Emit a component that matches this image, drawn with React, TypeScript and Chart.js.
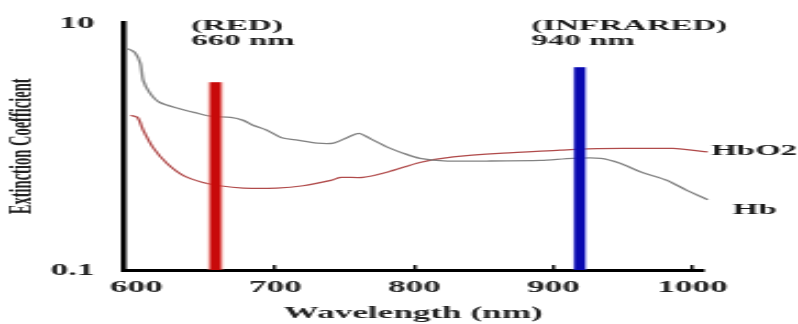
import React, { useEffect, useRef } from 'react';
import { Chart, registerables } from 'chart.js';

Chart.register(...registerables);

// ---- data ----
const tickWavelengths = [600, 700, 800, 900, 1000];
const tickExtinction = [0.1, 10];

const hbWavelength = [594, 599, 603, 605, 610, 617, 630, 644, 653, 668, 677, 684, 694, 704, 716, 730, 742, 752, 760, 768, 781, 792, 804, 824, 852, 891, 914, 934, 948, 963, 982, 996, 1011, 1022];
const hbValues = [6.17, 5.73, 4.67, 3.41, 2.68, 2.26, 2.03, 1.85, 1.75, 1.71, 1.62, 1.48, 1.35, 1.18, 1.12, 1.06, 1.06, 1.18, 1.27, 1.16, 0.98, 0.88, 0.8, 0.76, 0.76, 0.77, 0.8, 0.8, 0.73, 0.62, 0.53, 0.44, 0.37, 0.32];

const hbo2Wavelength = [596, 601, 605, 612, 622, 634, 648, 660, 677, 701, 720, 740, 747, 763, 781, 804, 828, 864, 905, 919, 950, 986, 1011];
const hbo2Values = [1.78, 1.71, 1.35, 0.98, 0.73, 0.58, 0.51, 0.48, 0.46, 0.46, 0.48, 0.53, 0.56, 0.56, 0.62, 0.74, 0.82, 0.88, 0.93, 0.95, 0.96, 0.96, 0.9];

const barWavelengths = [657, 919];
const barTops = [3.3, 4.36];
const barTitles = ['(RED)', '(INFRARED)'];
const barSubtitles = ['660 nm', '940 nm'];
const seriesNames = ['Hb', 'HbO2'];

const xTitle = 'Wavelength (nm)';
const yTitle = 'Extinction Coefficient';

// ---- rendering setup ----
const SERIF = '"Liberation Serif", "DejaVu Serif", serif';
const INT_W = 363; // internal canvas width, displayed stretched to 798
const INT_H = 324;

const pts = (xs: number[], ys: number[]) => xs.map((x, i) => ({ x, y: ys[i] }));
const barPts = (i: number) => [
  { x: barWavelengths[i], y: tickExtinction[0] },
  { x: barWavelengths[i], y: barTops[i] },
];

const labelPlugin = {
  id: 'labelPlugin',
  afterDatasetsDraw(chart: any) {
    const { ctx, scales } = chart;
    const xs = scales.x;
    const ys = scales.y;
    ctx.save();
    ctx.fillStyle = '#1a1a1a';
    ctx.font = `bold 15px ${SERIF}`;
    ctx.textAlign = 'left';
    ctx.textBaseline = 'alphabetic';
    const offsets = [-11, -22];
    barWavelengths.forEach((w, i) => {
      const px = xs.getPixelForValue(w) + offsets[i];
      ctx.fillText(barTitles[i], px, 30);
      ctx.fillText(barSubtitles[i], px, 45);
    });
    // series end labels
    const hbL = hbWavelength.length - 1;
    const hboL = hbo2Wavelength.length - 1;
    ctx.fillText(
      seriesNames[1],
      xs.getPixelForValue(hbo2Wavelength[hboL]) + 1.5,
      ys.getPixelForValue(hbo2Values[hboL]) + 3
    );
    ctx.fillText(
      seriesNames[0],
      xs.getPixelForValue(hbWavelength[hbL]) + 4.5,
      ys.getPixelForValue(hbValues[hbL]) + 6
    );
    ctx.restore();
  },
};

export default function App() {
  const ref = useRef<HTMLCanvasElement | null>(null);

  useEffect(() => {
    document.body.style.margin = '0';
    const canvas = ref.current;
    if (!canvas) return;
    const chart = new Chart(canvas, {
      type: 'line',
      data: {
        datasets: [
          { label: 'redBar', data: barPts(0), borderColor: '#c80a0a', borderWidth: 5, pointRadius: 0, order: 0, borderCapStyle: 'butt' },
          { label: 'blueBar', data: barPts(1), borderColor: '#0808b0', borderWidth: 5, pointRadius: 0, order: 0, borderCapStyle: 'butt' },
          { label: 'redGlow', data: barPts(0), borderColor: 'rgba(245,140,130,0.45)', borderWidth: 7.2, pointRadius: 0, order: 1, borderCapStyle: 'butt' },
          { label: 'blueGlow', data: barPts(1), borderColor: 'rgba(140,150,255,0.4)', borderWidth: 6.2, pointRadius: 0, order: 1, borderCapStyle: 'butt' },
          { label: seriesNames[0], data: pts(hbWavelength, hbValues), borderColor: '#828282', borderWidth: 1.3, pointRadius: 0, tension: 0.25, order: 2, clip: false },
          { label: seriesNames[1], data: pts(hbo2Wavelength, hbo2Values), borderColor: '#b04a4a', borderWidth: 1.25, pointRadius: 0, tension: 0.25, order: 2, clip: false },
        ] as any,
      },
      options: {
        responsive: false,
        maintainAspectRatio: false,
        devicePixelRatio: 1,
        animation: false,
        layout: { padding: { top: 22, right: 43, left: 0, bottom: 0 } },
        plugins: { legend: { display: false }, tooltip: { enabled: false } },
        scales: {
          x: {
            type: 'linear',
            min: 590.6,
            max: 1008,
            afterBuildTicks: (s: any) => {
              s.ticks = tickWavelengths.map((v) => ({ value: v }));
            },
            afterFit: (s: any) => {
              s.height = 54;
            },
            ticks: {
              color: '#222',
              font: { family: SERIF, size: 16, weight: 'bold' },
              padding: 13,
              autoSkip: false,
              maxRotation: 0,
              callback: (v: any) => String(v),
            },
            grid: {
              drawOnChartArea: false,
              drawTicks: true,
              tickLength: -5,
              lineWidth: 1.5,
              color: (c: any) => (c.tick && c.tick.value === tickWavelengths[0] ? 'rgba(0,0,0,0)' : '#111'),
            },
            border: { display: true, color: '#000', width: 3 },
            title: {
              display: true,
              text: xTitle,
              color: '#222',
              font: { family: SERIF, size: 16, weight: 'bold' },
              padding: { top: 0, bottom: 1 },
            },
          },
          y: {
            type: 'logarithmic',
            min: 0.1,
            max: 10,
            afterBuildTicks: (s: any) => {
              s.ticks = tickExtinction.map((v) => ({ value: v }));
            },
            afterFit: (s: any) => {
              s.width = 56;
            },
            ticks: {
              color: '#222',
              font: { family: SERIF, size: 16, weight: 'bold' },
              padding: 13,
              labelOffset: 1,
              callback: (v: any) => String(v),
            },
            grid: { display: false, drawTicks: false },
            border: { display: true, color: '#000', width: 2.5 },
            title: {
              display: true,
              text: yTitle,
              color: '#222',
              font: { family: SERIF, size: 14.5, weight: 'bold' },
              padding: { top: 2, bottom: 0 },
            },
          },
        },
      } as any,
      plugins: [labelPlugin],
    });
    return () => chart.destroy();
  }, []);

  return (
    <div style={{ position: 'fixed', left: 0, top: 0, width: 798, height: 324, background: '#fff' }}>
      <canvas
        ref={ref}
        width={INT_W}
        height={INT_H}
        style={{ width: '798px', height: '324px', display: 'block' }}
      />
    </div>
  );
}
